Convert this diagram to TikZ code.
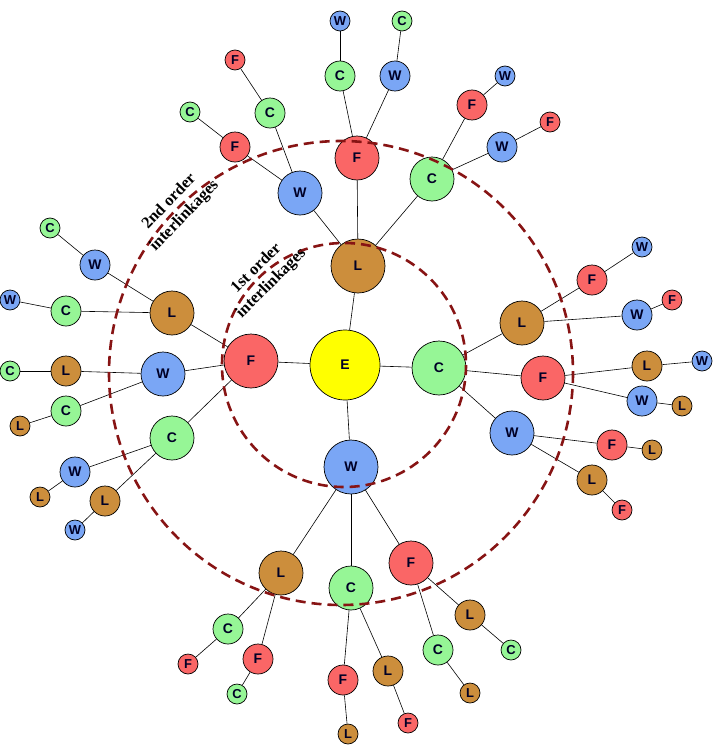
\documentclass[tikz,border=0pt]{standalone}
\usepackage{fontspec}
\setmainfont{Liberation Serif}
\setsansfont{Liberation Sans}

% 节点颜色
\definecolor{efill}{RGB}{255,255,0}
\definecolor{ffill}{RGB}{250,102,102}
\definecolor{cfill}{RGB}{150,246,150}
\definecolor{wfill}{RGB}{122,166,245}
\definecolor{lfill}{RGB}{204,142,60}
\definecolor{ringred}{RGB}{135,20,20}

\tikzset{
	nd/.style={circle,draw=black,line width=0.7pt,inner sep=0pt,text=black!85!blue,
		font=\sffamily\bfseries\fontsize{14}{14}\selectfont},
	lv0/.style={nd,minimum size=70bp},
	lv1/.style={nd,minimum size=54bp},
	lv2/.style={nd,minimum size=44bp},
	lv3/.style={nd,minimum size=30bp},
	lv4/.style={nd,minimum size=20bp,font=\sffamily\bfseries\fontsize{13}{13}\selectfont},
	nE/.style={fill=efill}, nF/.style={fill=ffill}, nC/.style={fill=cfill},
	nW/.style={fill=wfill}, nL/.style={fill=lfill},
	link/.style={draw=black,line width=0.6pt},
	ring/.style={draw=ringred,line width=2.6pt,dash pattern=on 10bp off 6bp},
	lbl/.style={align=center,font=\rmfamily\bfseries\fontsize{16.5}{21}\selectfont},
}

\begin{document}
\begin{tikzpicture}[x=1bp,y=-1bp]
	\useasboundingbox (0,0) rectangle (713,745);
	
	% 中心节点 E
	\node[lv0,nE] (e) at (345,365) {E};
	
	% 一阶关联
	\node[lv1,nL] (l1) at (358,266) {L}; \draw[link] (e) -- (l1);
	\node[lv1,nF] (f1) at (251,361) {F}; \draw[link] (e) -- (f1);
	\node[lv1,nC] (c1) at (439,368) {C}; \draw[link] (e) -- (c1);
	\node[lv1,nW] (w1) at (351,467) {W}; \draw[link] (e) -- (w1);
	
	% 二阶关联
	\node[lv2,nF] (lf) at (357,158) {F}; \draw[link] (l1) -- (lf);
	\node[lv2,nC] (lc) at (432,179) {C}; \draw[link] (l1) -- (lc);
	\node[lv2,nW] (lw) at (300,193) {W}; \draw[link] (l1) -- (lw);
	\node[lv2,nL] (fl) at (172,313) {L}; \draw[link] (f1) -- (fl);
	\node[lv2,nW] (fw) at (163,374) {W}; \draw[link] (f1) -- (fw);
	\node[lv2,nC] (fc) at (172,438) {C}; \draw[link] (f1) -- (fc);
	\node[lv2,nL] (cl) at (522,323) {L}; \draw[link] (c1) -- (cl);
	\node[lv2,nF] (cf) at (543,378) {F}; \draw[link] (c1) -- (cf);
	\node[lv2,nW] (cw) at (512,433) {W}; \draw[link] (c1) -- (cw);
	\node[lv2,nL] (wl) at (281,573) {L}; \draw[link] (w1) -- (wl);
	\node[lv2,nC] (wc) at (351,588) {C}; \draw[link] (w1) -- (wc);
	\node[lv2,nF] (wf) at (411,563) {F}; \draw[link] (w1) -- (wf);
	
	% 三阶
	\node[lv3,nC] (lfc) at (340,76) {C}; \draw[link] (lf) -- (lfc);
	\node[lv3,nW] (lfw) at (395,76) {W}; \draw[link] (lf) -- (lfw);
	\node[lv3,nF] (lcf) at (472,105) {F}; \draw[link] (lc) -- (lcf);
	\node[lv3,nW] (lcw) at (502,147) {W}; \draw[link] (lc) -- (lcw);
	\node[lv3,nC] (lwc) at (270,113) {C}; \draw[link] (lw) -- (lwc);
	\node[lv3,nF] (lwf) at (235,147) {F}; \draw[link] (lw) -- (lwf);
	\node[lv3,nW] (flw) at (95,265) {W}; \draw[link] (fl) -- (flw);
	\node[lv3,nC] (flc) at (66,311) {C}; \draw[link] (fl) -- (flc);
	\node[lv3,nL] (fwl) at (66,371) {L}; \draw[link] (fw) -- (fwl);
	\node[lv3,nC] (fwc) at (66,411) {C}; \draw[link] (fw) -- (fwc);
	\node[lv3,nW] (fcw) at (75,472) {W}; \draw[link] (fc) -- (fcw);
	\node[lv3,nL] (fcl) at (105,501) {L}; \draw[link] (fc) -- (fcl);
	\node[lv3,nF] (clf) at (592,280) {F}; \draw[link] (cl) -- (clf);
	\node[lv3,nW] (clw) at (637,315) {W}; \draw[link] (cl) -- (clw);
	\node[lv3,nL] (cfl) at (647,366) {L}; \draw[link] (cf) -- (cfl);
	\node[lv3,nW] (cfw) at (642,401) {W}; \draw[link] (cf) -- (cfw);
	\node[lv3,nF] (cwf) at (612,445) {F}; \draw[link] (cw) -- (cwf);
	\node[lv3,nL] (cwl) at (592,480) {L}; \draw[link] (cw) -- (cwl);
	\node[lv3,nC] (wlc) at (228,629) {C}; \draw[link] (wl) -- (wlc);
	\node[lv3,nF] (wlf) at (258,659) {F}; \draw[link] (wl) -- (wlf);
	\node[lv3,nF] (wcf) at (343,680) {F}; \draw[link] (wc) -- (wcf);
	\node[lv3,nL] (wcl) at (388,671) {L}; \draw[link] (wc) -- (wcl);
	\node[lv3,nC] (wfc) at (438,650) {C}; \draw[link] (wf) -- (wfc);
	\node[lv3,nL] (wfl) at (470,615) {L}; \draw[link] (wf) -- (wfl);
	
	% 四阶(最外层)
	\node[lv4,nW] (lfcw) at (340,21) {W}; \draw[link] (lfc) -- (lfcw);
	\node[lv4,nC] (lfwc) at (402,21) {C}; \draw[link] (lfw) -- (lfwc);
	\node[lv4,nW] (lcfw) at (505,76) {W}; \draw[link] (lcf) -- (lcfw);
	\node[lv4,nF] (lcwf) at (550,122) {F}; \draw[link] (lcw) -- (lcwf);
	\node[lv4,nF] (lwcf) at (235,60) {F}; \draw[link] (lwc) -- (lwcf);
	\node[lv4,nC] (lwfc) at (190,112) {C}; \draw[link] (lwf) -- (lwfc);
	\node[lv4,nC] (flwc) at (50,228) {C}; \draw[link] (flw) -- (flwc);
	\node[lv4,nW] (flcw) at (10,300) {W}; \draw[link] (flc) -- (flcw);
	\node[lv4,nC] (fwlc) at (10,371) {C}; \draw[link] (fwl) -- (fwlc);
	\node[lv4,nL] (fwcl) at (20,426) {L}; \draw[link] (fwc) -- (fwcl);
	\node[lv4,nL] (fcwl) at (40,497) {L}; \draw[link] (fcw) -- (fcwl);
	\node[lv4,nW] (fclw) at (75,530) {W}; \draw[link] (fcl) -- (fclw);
	\node[lv4,nW] (clfw) at (642,247) {W}; \draw[link] (clf) -- (clfw);
	\node[lv4,nF] (clwf) at (672,300) {F}; \draw[link] (clw) -- (clwf);
	\node[lv4,nW] (cflw) at (702,361) {W}; \draw[link] (cfl) -- (cflw);
	\node[lv4,nL] (cfwl) at (682,406) {L}; \draw[link] (cfw) -- (cfwl);
	\node[lv4,nL] (cwfl) at (652,450) {L}; \draw[link] (cwf) -- (cwfl);
	\node[lv4,nF] (cwlf) at (622,510) {F}; \draw[link] (cwl) -- (cwlf);
	\node[lv4,nF] (wlcf) at (188,664) {F}; \draw[link] (wlc) -- (wlcf);
	\node[lv4,nC] (wlfc) at (237,694) {C}; \draw[link] (wlf) -- (wlfc);
	\node[lv4,nL] (wcfl) at (348,734) {L}; \draw[link] (wcf) -- (wcfl);
	\node[lv4,nF] (wclf) at (408,723) {F}; \draw[link] (wcl) -- (wclf);
	\node[lv4,nL] (wfcl) at (470,693) {L}; \draw[link] (wfc) -- (wfcl);
	\node[lv4,nC] (wflc) at (511,650) {C}; \draw[link] (wfl) -- (wflc);
	
	% 一阶、二阶范围(虚线圆)
	\draw[ring] (344,365) circle (122);
	\draw[ring] (341,373) circle (232);
	
	% 标注
	\node[lbl,rotate=46] (t2) at (177,209) {2nd order\\interlinkages};
	\node[lbl,rotate=45] (t1) at (264,276) {1st order\\interlinkages};
\end{tikzpicture}
\end{document}
